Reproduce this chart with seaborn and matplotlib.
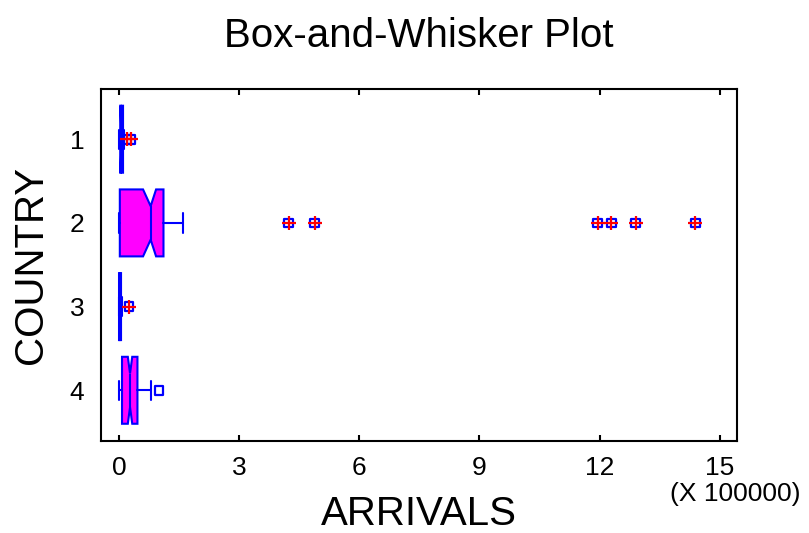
import matplotlib
matplotlib.use("Agg")
import matplotlib.pyplot as plt
import pandas as pd
import seaborn as sns

# Arrivals per country, in units of 100000
countries = ["1", "2", "3", "4"]
whisker_low = [0.0, 0.0, 0.0, 0.0]
q1 = [0.03, 0.02, 0.0, 0.075]
median = [0.05, 0.79, 0.02, 0.275]
q3 = [0.10, 1.11, 0.05, 0.46]
whisker_high = [0.12, 1.59, 0.08, 0.80]
notch_low = [0.04, 0.60, 0.01, 0.22]
notch_high = [0.07, 0.925, 0.035, 0.33]

# Points beyond the whiskers
outlier_country = ["1", "1", "2", "2", "2", "2", "2", "2", "3", "4"]
outlier_value = [0.19, 0.30, 4.24, 4.89, 11.95, 12.29, 12.90, 14.39, 0.25, 1.00]
far_outside = [True, True, True, True, True, True, True, True, True, False]

x_ticks = [0, 3, 6, 9, 12, 15]

sns.set_style("white")
plt.rcParams["font.family"] = ["Liberation Sans", "DejaVu Sans"]
plt.rcParams["text.color"] = "black"
plt.rcParams["xtick.color"] = "black"
plt.rcParams["ytick.color"] = "black"
plt.rcParams["axes.labelcolor"] = "black"

BLUE = "#0000FF"
MAGENTA = "#FF00FF"
RED = "#FF0000"

fig = plt.figure(figsize=(8.09, 5.33), dpi=100)
W, H = 809, 533
left, right, top, bottom = 101, 737, 89, 440.5
ax = fig.add_axes([left / W, 1 - bottom / H, (right - left) / W, (bottom - top) / H])

positions = list(range(len(countries)))
stats = [
    dict(label=c, whislo=wl, q1=a, med=m, q3=b, whishi=wh,
         cilo=nl, cihi=nh, fliers=[])
    for c, wl, a, m, b, wh, nl, nh in zip(countries, whisker_low, q1, median,
                                          q3, whisker_high, notch_low, notch_high)
]
box_kw = dict(
    positions=positions, widths=0.8, capwidths=0.23, shownotches=True,
    patch_artist=True, manage_ticks=False,
    boxprops=dict(facecolor=MAGENTA, edgecolor=BLUE, linewidth=1.5),
    medianprops=dict(color=BLUE, linewidth=1.5),
    whiskerprops=dict(color=BLUE, linewidth=1.5),
    capprops=dict(color=BLUE, linewidth=1.5),
)
try:
    ax.bxp(stats, orientation="horizontal", **box_kw)
except TypeError:
    ax.bxp(stats, vert=False, **box_kw)

pts = pd.DataFrame({
    "country": outlier_country,
    "arrivals": outlier_value,
    "far": far_outside,
})
pts["pos"] = pts["country"].map({c: i for i, c in enumerate(countries)})

# outside points: hollow squares; far outside points get a red cross on top
sns.scatterplot(data=pts, x="arrivals", y="pos", marker="s", s=40,
                facecolor="none", edgecolor=BLUE, linewidth=1.6, ax=ax,
                zorder=4, legend=False)
sns.scatterplot(data=pts[pts["far"]], x="arrivals", y="pos", marker="+", s=100,
                color=RED, linewidth=1.6, ax=ax, zorder=5, legend=False)

ax.set_xlim(-0.45, 15.43)
ax.set_ylim(len(countries) - 1 + 0.6, -0.6)
ax.set_xticks(x_ticks)
ax.set_xticklabels([str(t) for t in x_ticks])
ax.set_yticks(positions)
ax.set_yticklabels(countries)

ax.tick_params(axis="x", direction="in", length=4, width=1.5, top=True,
               bottom=True, labelsize=19, pad=11, color="black")
ax.tick_params(axis="y", length=0, labelsize=19, pad=12)
for sp in ax.spines.values():
    sp.set_visible(True)
    sp.set_color("black")
    sp.set_linewidth(1.5)

ax.set_xlabel("")
ax.set_ylabel("")
fig.text(419 / W, 1 - 514 / H, "ARRIVALS", fontsize=29,
         ha="center", va="center")
fig.text(31 / W, 1 - 265 / H, "COUNTRY", fontsize=29, rotation=90,
         ha="center", va="center")
fig.text(419 / W, 1 - 36 / H, "Box-and-Whisker Plot", fontsize=29,
         ha="center", va="center")
fig.text(800 / W, 1 - 494 / H, "(X 100000)", fontsize=19,
         ha="right", va="center")

fig.savefig("out.png", dpi=100)
